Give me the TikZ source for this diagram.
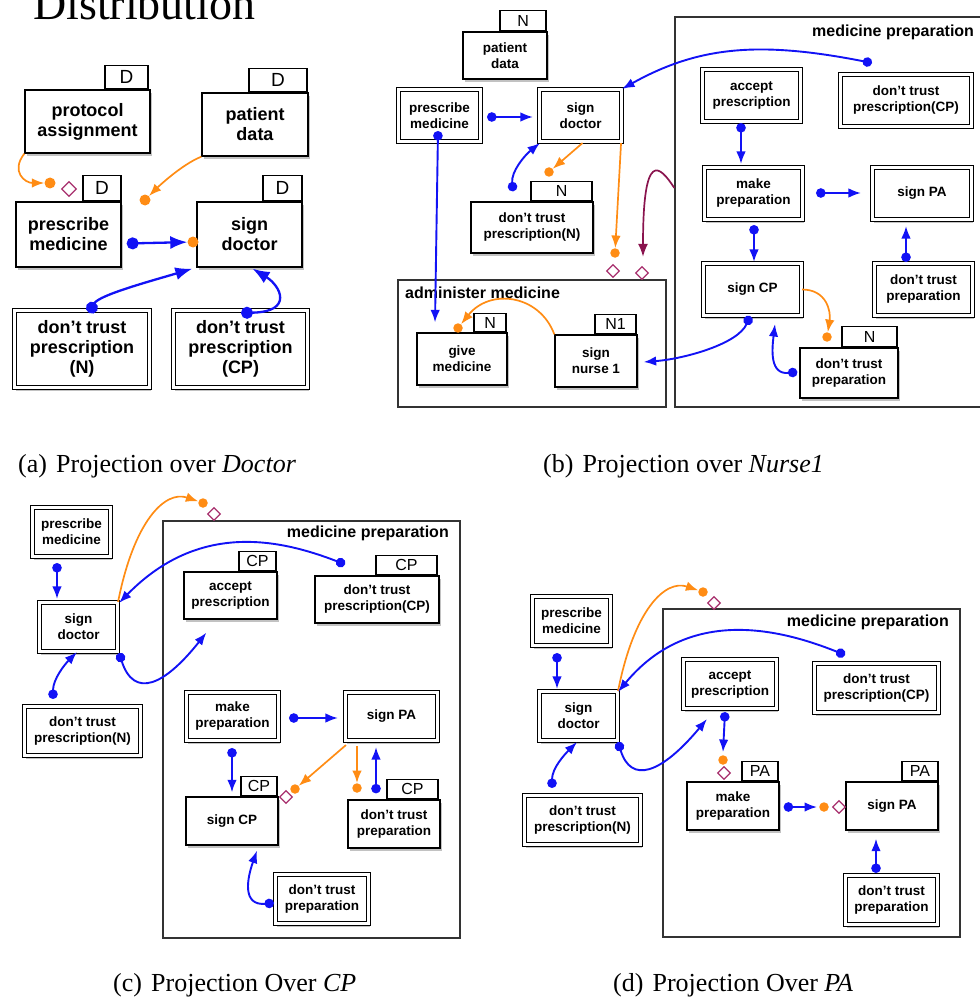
\documentclass[tikz,border=0pt]{standalone}
\usepackage{fontspec}
\setmainfont{Liberation Serif}
\setsansfont{Liberation Sans}
\usetikzlibrary{arrows.meta,shapes.geometric,shadows}

\definecolor{flowblue}{RGB}{18,18,245}
\definecolor{ctrlorange}{RGB}{255,140,20}
\definecolor{diamag}{RGB}{168,48,110}
\definecolor{plum}{RGB}{138,20,78}

\newcommand{\actfontA}{\fontsize{18}{20}\selectfont\sffamily\bfseries}
\newcommand{\actfontB}{\fontsize{13.5}{16}\selectfont\sffamily\bfseries}
\newcommand{\tabfontA}{\fontsize{19}{19}\selectfont\sffamily}
\newcommand{\tabfontB}{\fontsize{16}{16}\selectfont\sffamily}
\newcommand{\grpfont}{\fontsize{16}{18}\selectfont\sffamily\bfseries}
\newcommand{\capfont}{\fontsize{26}{28}\selectfont\rmfamily}

\tikzset{
  act/.style={draw, line width=1.3pt, fill=white, align=center, inner sep=1pt,
    drop shadow={shadow xshift=1.5pt, shadow yshift=-3pt, fill=black!60, opacity=0.4}},
  actA/.style={act, font=\actfontA},
  actB/.style={act, font=\actfontB},
  dblA/.style={double, double distance=3.5pt, line width=1.2pt},
  dblB/.style={double, double distance=2.2pt, line width=1.1pt},
  tabA/.style={draw, line width=1.3pt, fill=white, inner sep=0pt, anchor=south east,
    font=\tabfontA},
  tabB/.style={draw, line width=1.2pt, fill=white, inner sep=0pt, anchor=south east,
    font=\tabfontB},
  grp/.style={draw=black!80, line width=1.3pt},
  grplabel/.style={font=\grpfont, inner sep=0pt},
  bluA/.style={draw=flowblue, line width=2.3pt,
    {Circle[length=12pt]}-{Latex[length=17pt,width=13pt]}},
  bluB/.style={draw=flowblue, line width=1.9pt,
    {Circle[length=9.5pt]}-{Latex[length=12.5pt,width=9.5pt]}},
  org/.style={draw=ctrlorange, line width=1.7pt, -{Latex[length=12.5pt,width=9.5pt]}},
  odot/.style={circle, fill=ctrlorange, inner sep=0pt, minimum size=9.5pt},
  dia/.style={diamond, draw=diamag, line width=1.3pt, fill=white, inner sep=0pt,
    minimum size=13pt},
  pur/.style={draw=plum, line width=1.7pt, -{Latex[length=13pt,width=10pt]}},
  captext/.style={font=\capfont, inner sep=0pt, anchor=base west}
}

\begin{document}
\begin{tikzpicture}[x=1pt,y=-1pt]
  \useasboundingbox (0,0) rectangle (979,1003);

  \node[anchor=base west, inner sep=0pt, font=\fontsize{46}{46}\selectfont\rmfamily]
    (title) at (33,20) {Distribution};

  % (a) Doctor
  \node[actA, minimum width=125pt, minimum height=63pt] (aPA) at (87.5,121.5)
    {protocol\\assignment};
  \node[tabA, minimum width=43pt, minimum height=23pt] (aPAt)
    at ([xshift=-2pt]aPA.north east) {D};
  \node[actA, minimum width=106pt, minimum height=63pt] (aPD) at (255,124.5)
    {patient\\data};
  \node[tabA, minimum width=58pt, minimum height=23pt] (aPDt)
    at ([xshift=-1pt]aPD.north east) {D};
  \node[actA, minimum width=105pt, minimum height=65pt] (aPM) at (68.5,234.5)
    {prescribe\\medicine};
  \node[tabA, minimum width=38pt, minimum height=25pt] (aPMt)
    at (aPM.north east) {D};
  \node[actA, minimum width=105pt, minimum height=65pt] (aSD) at (249.5,234.5)
    {sign\\doctor};
  \node[tabA, minimum width=39pt, minimum height=25pt] (aSDt)
    at (aSD.north east) {D};
  \node[actA, dblA, minimum width=135pt, minimum height=77pt] (aTN) at (82,349)
    {don't trust\\prescription\\(N)};
  \node[actA, dblA, minimum width=134pt, minimum height=77pt] (aTC) at (240.5,349)
    {don't trust\\prescription\\(CP)};

  \node[odot, minimum size=11pt] (aO1) at (50,183) {};
  \node[dia, minimum size=15pt] (aD1) at (69,189) {};
  \node[odot, minimum size=11pt] (aO2) at (145,200) {};
  \node[odot, minimum size=11pt] (aO3) at (193,242) {};

  \draw[org] (aPA.south west) .. controls +(-14,18) and +(-25,0) .. (aO1);
  \draw[org] (aPD.south west) .. controls +(-20,8) and +(12,-12) .. (aO2);
  \draw[bluA] ([shift={(5,9)}]aPM.east) -- (aO3);
  \draw[bluA] ([shift={(7,3)}]aTN.north) .. controls +(10,-18) and +(-40,12) ..
    ([shift={(-4,1)}]aSD.south west);
  \draw[bluA] ([shift={(0.5,3)}]aTC.north) .. controls +(53,-1) and +(28,17) ..
    ([shift={(3,1)}]aSD.south);

  \node[captext] (capA) at (18,472) {(a)\hspace{.35em}Projection over \textit{Doctor}};

  % (b) Nurse1
  \node[grp, minimum width=268pt, minimum height=127pt] (bAM) at (532,343.5) {};
  \node[grplabel, anchor=base west] (bAMl) at (405,298) {administer medicine};
  \node[grp, minimum width=320pt, minimum height=390pt] (bMP) at (835,212) {};
  \node[grplabel, anchor=base west] (bMPl) at (812,37) {medicine preparation};

  \node[actB, minimum width=84pt, minimum height=47pt] (bPD) at (505,55.5)
    {patient\\data};
  \node[tabB, minimum width=46pt, minimum height=20pt] (bPDt)
    at ([xshift=-1pt]bPD.north east) {N};
  \node[actB, dblB, minimum width=82pt, minimum height=52pt] (bPM) at (439.5,115.5)
    {prescribe\\medicine};
  \node[actB, dblB, minimum width=82pt, minimum height=52pt] (bSD) at (580.5,115.5)
    {sign\\doctor};
  \node[actB, minimum width=122pt, minimum height=51pt] (bTN) at (532,227.5)
    {don't trust\\prescription(N)};
  \node[tabB, minimum width=61pt, minimum height=19pt] (bTNt)
    at ([xshift=-1pt]bTN.north east) {N};
  \node[actB, minimum width=90pt, minimum height=52pt] (bGM) at (462,359)
    {give\\medicine};
  \node[tabB, minimum width=32pt, minimum height=18pt] (bGMt)
    at ([xshift=-1pt]bGM.north east) {N};
  \node[actB, minimum width=82pt, minimum height=52pt] (bSN) at (596,361)
    {sign\\nurse 1};
  \node[tabB, minimum width=41pt, minimum height=19pt] (bSNt)
    at ([xshift=-1pt]bSN.north east) {N1};

  \node[actB, dblB, minimum width=98pt, minimum height=52pt] (bAP) at (751.5,95.5)
    {accept\\prescription};
  \node[actB, dblB, minimum width=131pt, minimum height=52pt] (bTC) at (906,100.5)
    {don't trust\\prescription(CP)};
  \node[actB, dblB, minimum width=98pt, minimum height=52pt] (bMk) at (753.5,193.5)
    {make\\preparation};
  \node[actB, dblB, minimum width=99pt, minimum height=52pt] (bSP) at (922,193.5)
    {sign PA};
  \node[actB, dblB, minimum width=98pt, minimum height=52pt] (bSC) at (752.5,289.5)
    {sign CP};
  \node[actB, dblB, minimum width=98pt, minimum height=52pt] (bTP) at (923.5,289.5)
    {don't trust\\preparation};
  \node[actB, minimum width=98pt, minimum height=50pt] (bTPN) at (849,373)
    {don't trust\\preparation};
  \node[tabB, minimum width=55pt, minimum height=20pt] (bTPNt)
    at ([xshift=-1pt]bTPN.north east) {N};

  \node[odot] (bO1) at (549,172) {};
  \node[odot] (bO2) at (615,253) {};
  \node[dia] (bD1) at (613,271) {};
  \node[dia] (bD2) at (642,273) {};
  \node[odot] (bO3) at (827,337) {};
  \node[odot] (bO4) at (458,328) {};

  \draw[bluB] ([shift={(6,1.5)}]bPM.east) -- ([shift={(-6,1.5)}]bSD.west);
  \draw[bluB] ([shift={(-1.5,-11)}]bPM.south) -- ([shift={(-27,-10)}]bGM.north);
  \draw[bluB] ([shift={(-19,-10)}]bTN.north) .. controls +(-2,-20) and +(-15,12) ..
    ([shift={(1,1)}]bSD.south west);
  \draw[org] ([shift={(2,1)}]bSD.south) -- (bO1);
  \draw[org] ([shift={(-1,1)}]bSD.south east) -- (bO2);
  \draw[pur] ([shift={(0,-24)}]bMP.west) .. controls +(-15,-23) and +(0,-108) ..
    ([shift={(1,-9)}]bD2.north);
  \draw[bluB] ([shift={(-34,-11)}]bTC.north) .. controls +(-112,-22) and +(77,-43) ..
    (bSD.north east);
  \draw[bluB] ([shift={(-10.5,1)}]bAP.south) -- ([shift={(-12.5,-3)}]bMk.north);
  \draw[bluB] ([shift={(0.5,5)}]bMk.south) -- ([shift={(1.5,-1)}]bSC.north);
  \draw[bluB] ([shift={(13,-0.5)}]bMk.east) -- ([shift={(-11,-0.5)}]bSP.west);
  \draw[bluB] ([shift={(-17.5,-1)}]bTP.north) -- ([shift={(-16,6)}]bSP.south);
  \draw[org] (bSC.east) .. controls +(25,0) and +(4,-25) .. (bO3);
  \draw[bluB] ([shift={(-2,-1)}]bTPN.west) .. controls +(-28,3) and +(-3,25) ..
    ([shift={(22.5,8)}]bSC.south);
  \draw[bluB] ([shift={(-2.5,0)}]bSC.south) .. controls +(-12,28) and +(40,-3) ..
    ([shift={(6,1)}]bSN.east);
  \draw[org] (bSN.north west) .. controls +(-15,-40) and +(32,-40) .. (bO4);

  \node[captext] (capB) at (543,472) {(b)\hspace{.35em}Projection over \textit{Nurse1}};

  % (c) CP
  \node[grp, minimum width=297pt, minimum height=417pt] (cMP) at (311.5,729.5) {};
  \node[grplabel, anchor=base east] (cMPl) at (449,537) {medicine preparation};

  \node[actB, dblB, minimum width=78pt, minimum height=49pt] (cPM) at (71.5,532)
    {prescribe\\medicine};
  \node[actB, dblB, minimum width=78pt, minimum height=49pt] (cSD) at (78.5,627)
    {sign\\doctor};
  \node[actB, dblB, minimum width=116pt, minimum height=49pt] (cTN) at (82.5,731)
    {don't trust\\prescription(N)};
  \node[actB, minimum width=93pt, minimum height=47pt] (cAP) at (230.5,595.5)
    {accept\\prescription};
  \node[tabB, minimum width=37pt, minimum height=19pt] (cAPt)
    at ([xshift=-1pt]cAP.north east) {CP};
  \node[actB, minimum width=124pt, minimum height=47pt] (cTC) at (377,599.5)
    {don't trust\\prescription(CP)};
  \node[tabB, minimum width=61pt, minimum height=19pt] (cTCt)
    at ([xshift=-2pt]cTC.north east) {CP};
  \node[actB, dblB, minimum width=92pt, minimum height=48pt] (cMk) at (232.5,716.5)
    {make\\preparation};
  \node[actB, dblB, minimum width=92pt, minimum height=48pt] (cSP) at (391.5,716.5)
    {sign PA};
  \node[actB, minimum width=92pt, minimum height=48pt] (cSC) at (232,821)
    {sign CP};
  \node[tabB, minimum width=36pt, minimum height=19pt] (cSCt)
    at ([xshift=-1pt]cSC.north east) {CP};
  \node[actB, minimum width=92pt, minimum height=48pt] (cTPN) at (394,824)
    {don't trust\\preparation};
  \node[tabB, minimum width=51pt, minimum height=19pt] (cTPNt)
    at ([xshift=-2pt]cTPN.north east) {CP};
  \node[actB, dblB, minimum width=93pt, minimum height=49pt] (cTP) at (322,899)
    {don't trust\\preparation};

  \node[odot] (cO1) at (203,503) {};
  \node[dia] (cD1) at (214,514) {};
  \node[odot] (cO2) at (295,789) {};
  \node[dia] (cD2) at (286,797) {};
  \node[odot] (cO3) at (357,788) {};

  \draw[bluB] ([shift={(-14.5,6)}]cPM.south) -- ([shift={(-21.5,-3)}]cSD.north);
  \draw[bluB] ([shift={(-29.5,-7)}]cTN.north) .. controls +(0,-20) and +(-12,12) ..
    ([shift={(-1.5,0)}]cSD.south);
  \draw[org] (cSD.north east) .. controls +(16,-81) and +(-38,-13) .. (cO1);
  \draw[bluB] ([shift={(-32,-11)}]cTC.north) .. controls +(-65,-25) and +(80,-82) ..
    ([shift={(1,1)}]cSD.north east);
  \draw[bluB] ([shift={(1,1)}]cSD.south east) .. controls +(15,46) and +(-42,53) ..
    ([shift={(23,13)}]cAP.south west);
  \draw[bluB] ([shift={(10,1.5)}]cMk.east) -- ([shift={(-7,1.5)}]cSP.west);
  \draw[bluB] ([shift={(-0.5,7)}]cMk.south) -- ([shift={(0,-4)}]cSC.north);
  \draw[org] ([shift={(1,4)}]cSP.south west) -- (cO2);
  \draw[org] ([shift={(-34.5,5)}]cSP.south) -- (cO3);
  \draw[bluB] ([shift={(-18,-6)}]cTPN.north) -- ([shift={(-15.5,6)}]cSP.south);
  \draw[bluB] ([shift={(-1,4)}]cTP.west) .. controls +(-32,3) and +(-10,28) ..
    ([shift={(25,5)}]cSC.south);

  \node[captext] (capC) at (113,991) {(c)\hspace{.35em}Projection Over \textit{CP}};

  % (d) PA
  \node[grp, minimum width=297pt, minimum height=328pt] (dMP) at (811.5,773) {};
  \node[grplabel, anchor=base east] (dMPl) at (949,626) {medicine preparation};

  \node[actB, dblB, minimum width=78pt, minimum height=49pt] (dPM) at (571.5,621)
    {prescribe\\medicine};
  \node[actB, dblB, minimum width=78pt, minimum height=49pt] (dSD) at (578.5,716)
    {sign\\doctor};
  \node[actB, dblB, minimum width=116pt, minimum height=49pt] (dTN) at (582.5,820)
    {don't trust\\prescription(N)};
  \node[actB, dblB, minimum width=93pt, minimum height=49pt] (dAP) at (730,684)
    {accept\\prescription};
  \node[actB, dblB, minimum width=124pt, minimum height=49pt] (dTC) at (876.5,688)
    {don't trust\\prescription(CP)};
  \node[actB, minimum width=92pt, minimum height=48pt] (dMk) at (733,806)
    {make\\preparation};
  \node[tabB, minimum width=36pt, minimum height=19pt] (dMkt)
    at ([xshift=-1pt]dMk.north east) {PA};
  \node[actB, minimum width=92pt, minimum height=48pt] (dSP) at (892,806)
    {sign PA};
  \node[tabB, minimum width=36pt, minimum height=19pt] (dSPt)
    at (dSP.north east) {PA};
  \node[actB, dblB, minimum width=92pt, minimum height=49pt] (dTP) at (891.5,900)
    {don't trust\\preparation};

  \node[odot] (dO1) at (703,592) {};
  \node[dia] (dD1) at (714,603) {};
  \node[odot] (dO2) at (723,760) {};
  \node[dia] (dD2) at (724,773) {};
  \node[odot] (dO3) at (824,807) {};
  \node[dia] (dD3) at (839,807) {};

  \draw[bluB] ([shift={(-14.5,7)}]dPM.south) -- ([shift={(-21.5,-2)}]dSD.north);
  \draw[bluB] ([shift={(-30.5,-7)}]dTN.north) .. controls +(0,-20) and +(-12,12) ..
    ([shift={(-1.5,1)}]dSD.south);
  \draw[org] (dSD.north east) .. controls +(16,-81) and +(-38,-13) .. (dO1);
  \draw[bluB] ([shift={(-31.5,-8)}]dTC.north) .. controls +(-65,-26) and +(71,-86) ..
    ([shift={(0,1)}]dSD.north east);
  \draw[bluB] ([shift={(0,1)}]dSD.south east) .. controls +(13,42) and +(-46,55) ..
    ([shift={(24,10)}]dAP.south west);
  \draw[bluB] ([shift={(-5,3)}]dAP.south) -- ([shift={(0,-3)}]dO2.north);
  \draw[bluB] ([shift={(4,1)}]dMk.east) -- ([shift={(-2,0)}]dO3.west);
  \draw[bluB] ([shift={(-15.5,-2)}]dTP.north) -- ([shift={(-16,8)}]dSP.south);

  \node[captext] (capD) at (613,991) {(d)\hspace{.35em}Projection Over \textit{PA}};
\end{tikzpicture}
\end{document}
